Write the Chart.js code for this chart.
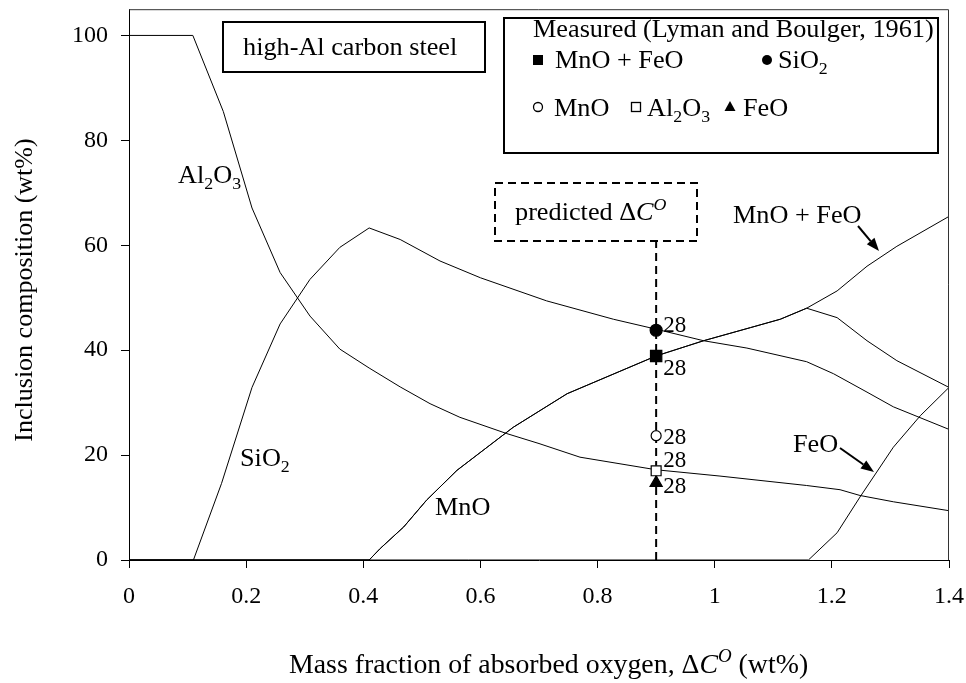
<!DOCTYPE html>
<html lang="en">
<head>
  <meta charset="UTF-8" />
  <title>Inclusion composition vs absorbed oxygen</title>
  <script src="https://cdn.jsdelivr.net/npm/chart.js"></script>
  <style>
    body { margin: 0; background: #fff; }
    #wrap { width: 966px; height: 683px; }
  </style>
</head>
<body>
  <div id="wrap"><canvas id="incChart" width="966" height="683"></canvas></div>

  <script>
    // calculated curves (x = wt% O absorbed, y = wt%)
    const al2o3X = [0, 0.109, 0.161, 0.21, 0.258, 0.309, 0.36, 0.41, 0.463, 0.514, 0.565, 0.645, 0.70, 0.77, 0.9, 1.009, 1.157, 1.214, 1.248, 1.305, 1.4];
    const al2o3Y = [100, 100, 85.5, 67.1, 54.8, 46.5, 40.2, 36.6, 33.0, 29.8, 27.2, 24.1, 22.2, 19.6, 17.2, 16.0, 14.2, 13.4, 12.3, 11.1, 9.4];

    const sio2X = [0, 0.11, 0.158, 0.21, 0.258, 0.309, 0.36, 0.41, 0.463, 0.531, 0.6, 0.713, 0.827, 0.9, 0.981, 1.055, 1.157, 1.203, 1.26, 1.305, 1.4];
    const sio2Y = [0, 0, 14.6, 32.9, 45.0, 53.5, 59.6, 63.3, 61.1, 57.0, 53.8, 49.4, 45.9, 44.0, 41.8, 40.4, 37.8, 35.5, 32.0, 29.2, 24.9];

    const mnoX = [0, 0.41, 0.429, 0.469, 0.508, 0.56, 0.656, 0.748, 0.9, 0.981, 1.061, 1.112, 1.157, 1.209, 1.26, 1.311, 1.4];
    const mnoY = [0, 0, 2.2, 6.3, 11.4, 17.1, 25.3, 31.7, 38.9, 41.8, 44.3, 45.9, 48.0, 46.2, 41.8, 38.0, 32.9];

    const mnoFeoX = [0, 0.41, 0.429, 0.469, 0.508, 0.56, 0.656, 0.748, 0.9, 0.981, 1.061, 1.112, 1.157, 1.209, 1.26, 1.311, 1.4];
    const mnoFeoY = [0, 0, 2.2, 6.3, 11.4, 17.1, 25.3, 31.7, 38.9, 41.8, 44.3, 45.9, 48.0, 51.3, 56.0, 59.8, 65.5];

    const feoX = [0, 1.16, 1.209, 1.248, 1.305, 1.351, 1.4];
    const feoY = [0, 0, 5.2, 12.0, 21.5, 27.5, 32.9];

    // measured (Lyman and Boulger, 1961)
    const measNames = ["MnO + FeO", "SiO2", "MnO", "Al2O3", "FeO"];
    const measX = [0.9, 0.9, 0.9, 0.9, 0.9];
    const measY = [38.9, 43.8, 23.7, 17.0, 14.7];
    const measLabel = ["28", "28", "28", "28", "28"];

    // predicted ΔC^O marker line
    const predX = [0.9, 0.9];
    const predY = [0, 60.6];

    const xTicks = [0, 0.2, 0.4, 0.6, 0.8, 1, 1.2, 1.4];
    const yTicks = [0, 20, 40, 60, 80, 100];

    const FONT = "'Liberation Serif', 'Times New Roman', serif";
    const pts = (xs, ys) => xs.map((x, i) => ({ x: x, y: ys[i] }));

    function curve(label, xs, ys) {
      return {
        label: label, data: pts(xs, ys), showLine: true, tension: 0,
        borderColor: "#000", borderWidth: 1, pointRadius: 0, fill: false
      };
    }

    // marker look per measured series (same order as measNames)
    const measStyle = [
      { pointStyle: "rect", radius: 8, bg: "#000" },
      { pointStyle: "circle", radius: 6, bg: "#000" },
      { pointStyle: "circle", radius: 5, bg: "#fff" },
      { pointStyle: "rect", radius: 7, bg: "#fff" },
      { pointStyle: "triangle", radius: 7, bg: "#000" }
    ];
    // where the "28" sits relative to each point (px)
    const labelDy = [19, 1.5, 8.5, -4, 10];

    const measured = measNames.map((n, i) => ({
      label: n,
      data: [{ x: measX[i], y: measY[i] }],
      showLine: false,
      pointStyle: measStyle[i].pointStyle,
      pointRadius: measStyle[i].radius,
      pointBackgroundColor: measStyle[i].bg,
      pointBorderColor: "#000",
      pointBorderWidth: 1.2
    }));

    function font(size, italic) {
      return (italic ? "italic " : "") + size + "px " + FONT;
    }

    // parts: [text, kind] with kind "", "sub", "it", "itsup"
    function richWidth(ctx, parts, size) {
      let w = 0;
      parts.forEach(([t, k]) => {
        const small = k === "sub" || k === "itsup";
        ctx.font = font(small ? size * 0.68 : size, k === "it" || k === "itsup");
        w += ctx.measureText(t).width;
      });
      return w;
    }

    function richText(ctx, parts, x, y, size, sx, align, rot) {
      ctx.save();
      ctx.translate(x, y);
      if (rot) ctx.rotate(rot);
      ctx.scale(sx, 1);
      ctx.fillStyle = "#000";
      ctx.textBaseline = "alphabetic";
      ctx.textAlign = "left";
      let cx = align === "center" ? -richWidth(ctx, parts, size) / 2 : 0;
      parts.forEach(([t, k]) => {
        let s = size, dy = 0, it = false;
        if (k === "sub") { s = size * 0.68; dy = size * 0.22; }
        if (k === "it") it = true;
        if (k === "itsup") { it = true; s = size * 0.68; dy = -size * 0.42; }
        ctx.font = font(s, it);
        ctx.fillText(t, cx, dy);
        cx += ctx.measureText(t).width;
      });
      ctx.restore();
    }

    function arrow(ctx, x1, y1, x2, y2) {
      const a = Math.atan2(y2 - y1, x2 - x1), L = 13, W = 5;
      ctx.save();
      ctx.strokeStyle = "#000"; ctx.fillStyle = "#000"; ctx.lineWidth = 2;
      ctx.beginPath();
      ctx.moveTo(x1, y1);
      ctx.lineTo(x2 - L * Math.cos(a), y2 - L * Math.sin(a));
      ctx.stroke();
      ctx.beginPath();
      ctx.moveTo(x2, y2);
      ctx.lineTo(x2 - L * Math.cos(a) + W * Math.sin(a), y2 - L * Math.sin(a) - W * Math.cos(a));
      ctx.lineTo(x2 - L * Math.cos(a) - W * Math.sin(a), y2 - L * Math.sin(a) + W * Math.cos(a));
      ctx.closePath();
      ctx.fill();
      ctx.restore();
    }

    function marker(ctx, kind, x, y) {
      ctx.save();
      ctx.fillStyle = "#000"; ctx.strokeStyle = "#000"; ctx.lineWidth = 1.3;
      ctx.beginPath();
      if (kind === "fsq") ctx.fillRect(x - 5, y - 5, 10, 10);
      if (kind === "fci") { ctx.arc(x, y, 5, 0, Math.PI * 2); ctx.fill(); }
      if (kind === "oci") { ctx.arc(x, y, 4.5, 0, Math.PI * 2); ctx.stroke(); }
      if (kind === "osq") ctx.strokeRect(x - 4.5, y - 4.5, 9, 9);
      if (kind === "ftr") {
        ctx.moveTo(x, y - 6); ctx.lineTo(x + 5.5, y + 4); ctx.lineTo(x - 5.5, y + 4);
        ctx.closePath(); ctx.fill();
      }
      ctx.restore();
    }

    const FS = 25;   // annotation font size
    const SX = 1.05; // reference text runs a touch wide

    const decorations = {
      id: "decorations",
      afterDraw(chart) {
        const ctx = chart.ctx, a = chart.chartArea;
        const xs = chart.scales.x, ys = chart.scales.y;

        // top + right frame
        ctx.save();
        ctx.strokeStyle = "#333"; ctx.lineWidth = 1;
        ctx.beginPath();
        ctx.moveTo(a.left, a.top + 0.5); ctx.lineTo(a.right - 0.5, a.top + 0.5); ctx.lineTo(a.right - 0.5, a.bottom);
        ctx.stroke();

        // boxes
        ctx.strokeStyle = "#000"; ctx.lineWidth = 2;
        ctx.strokeRect(223, 22, 262, 50);
        ctx.strokeRect(504, 18, 434, 135);
        ctx.setLineDash([8, 5]);
        ctx.strokeRect(495, 183, 202, 58);
        ctx.restore();

        richText(ctx, [["high-Al carbon steel", ""]], 243, 55, FS, SX);
        richText(ctx, [["predicted Δ", ""], ["C", "it"], ["O", "itsup"]], 515, 220, FS, SX);

        // legend
        richText(ctx, [["Measured (Lyman and Boulger, 1961)", ""]], 533, 37, FS, SX);
        marker(ctx, "fsq", 538, 60);
        richText(ctx, [["MnO + FeO", ""]], 555, 68, FS, SX);
        marker(ctx, "fci", 767, 60);
        richText(ctx, [["SiO", ""], ["2", "sub"]], 778, 68, FS, SX);
        marker(ctx, "oci", 538, 107);
        richText(ctx, [["MnO", ""]], 554, 116, FS, SX);
        marker(ctx, "osq", 636, 107);
        richText(ctx, [["Al", ""], ["2", "sub"], ["O", ""], ["3", "sub"]], 647, 116, FS, SX);
        marker(ctx, "ftr", 730, 107);
        richText(ctx, [["FeO", ""]], 743, 116, FS, SX);

        // curve labels
        richText(ctx, [["Al", ""], ["2", "sub"], ["O", ""], ["3", "sub"]], 178, 183, FS, SX);
        richText(ctx, [["SiO", ""], ["2", "sub"]], 240, 466, FS, SX);
        richText(ctx, [["MnO", ""]], 435, 515, FS, SX);
        richText(ctx, [["MnO + FeO", ""]], 733, 223, FS, SX);
        richText(ctx, [["FeO", ""]], 793, 452, FS, SX);
        arrow(ctx, 858, 226, 879, 251);
        arrow(ctx, 840, 448, 874, 472);

        // "28" next to each measured point
        measNames.forEach((n, i) => {
          const px = xs.getPixelForValue(measX[i]), py = ys.getPixelForValue(measY[i]);
          ctx.save();
          ctx.font = font(23);
          ctx.fillStyle = "#000";
          ctx.textBaseline = "alphabetic";
          ctx.fillText(measLabel[i], px + 7, py + labelDy[i]);
          ctx.restore();
        });

        // axis titles
        richText(ctx, [["Mass fraction of absorbed oxygen, Δ", ""], ["C", "it"], ["O", "itsup"], [" (wt%)", ""]], 289, 673, 26.5, SX);
        richText(ctx, [["Inclusion composition (wt%)", ""]], 32, 290, 26, 1, "center", -Math.PI / 2);
      }
    };

    new Chart(document.getElementById("incChart"), {
      type: "scatter",
      data: {
        datasets: [
          ...measured,
          {
            label: "predicted", data: pts(predX, predY), showLine: true,
            borderColor: "#000", borderWidth: 2, borderDash: [8, 5], pointRadius: 0
          },
          curve("Al2O3", al2o3X, al2o3Y),
          curve("SiO2", sio2X, sio2Y),
          curve("MnO", mnoX, mnoY),
          curve("MnO + FeO", mnoFeoX, mnoFeoY),
          curve("FeO", feoX, feoY)
        ]
      },
      options: {
        responsive: false,
        animation: false,
        devicePixelRatio: 1,
        layout: { padding: { top: 7, right: 17, left: 0, bottom: 0 } },
        plugins: { legend: { display: false }, tooltip: { enabled: false } },
        scales: {
          x: {
            type: "linear", min: 0, max: 1.4,
            afterBuildTicks: s => { s.ticks = xTicks.map(v => ({ value: v })); },
            afterFit: s => { s.height = 123; s.paddingLeft = 0; s.paddingRight = 0; },
            border: { color: "#000", width: 1 },
            grid: { drawOnChartArea: false, drawTicks: true, tickLength: 8, color: "#000" },
            ticks: {
              color: "#000", padding: 14, maxRotation: 0,
              font: { family: FONT, size: 24 },
              callback: v => String(+Number(v).toFixed(1))
            }
          },
          y: {
            type: "linear", min: 0, max: 105,
            afterBuildTicks: s => { s.ticks = yTicks.map(v => ({ value: v })); },
            afterFit: s => { s.width = 129; s.paddingTop = 0; s.paddingBottom = 0; },
            border: { color: "#000", width: 1 },
            grid: { drawOnChartArea: false, drawTicks: true, tickLength: 8, color: "#000" },
            ticks: {
              color: "#000", padding: 13,
              font: { family: FONT, size: 24 }
            }
          }
        }
      },
      plugins: [decorations]
    });
  </script>
</body>
</html>
